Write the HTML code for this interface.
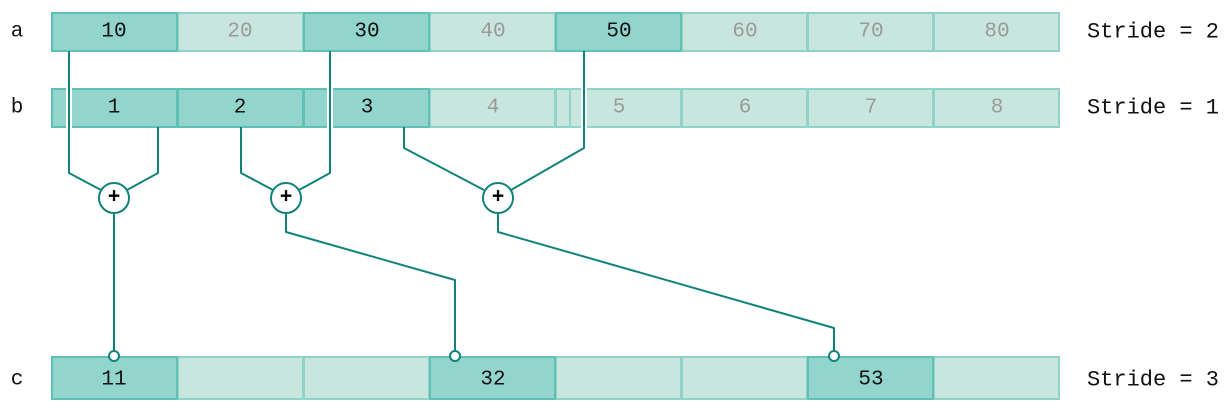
<!DOCTYPE html>
<html><head><style>body{margin:0;background:#fff}svg{display:block}text{font-family:"Liberation Mono","DejaVu Sans Mono",monospace;font-size:21px;text-anchor:middle;dominant-baseline:central}</style></head>
<body>
<svg width="1232" height="413" viewBox="0 0 1232 413">
<g stroke-width="2">
<g stroke="#8fd3c9" fill="#c9e6de">
<rect x="178" y="13" width="125" height="38"/>
<rect x="430" y="13" width="125" height="38"/>
<rect x="682" y="13" width="125" height="38"/>
<rect x="808" y="13" width="125" height="38"/>
<rect x="934" y="13" width="125" height="38"/>
<rect x="430" y="89" width="125" height="38"/>
<rect x="556" y="89" width="125" height="38"/>
<rect x="682" y="89" width="125" height="38"/>
<rect x="808" y="89" width="125" height="38"/>
<rect x="934" y="89" width="125" height="38"/>
<rect x="178" y="357" width="125" height="42"/>
<rect x="304" y="357" width="125" height="42"/>
<rect x="556" y="357" width="125" height="42"/>
<rect x="682" y="357" width="125" height="42"/>
<rect x="934" y="357" width="125" height="42"/>
</g>
<g stroke="#5fc0b3" fill="#91d5cc">
<rect x="52" y="13" width="125" height="38"/>
<rect x="304" y="13" width="125" height="38"/>
<rect x="556" y="13" width="125" height="38"/>
<rect x="52" y="89" width="125" height="38"/>
<rect x="178" y="89" width="125" height="38"/>
<rect x="304" y="89" width="125" height="38"/>
<rect x="52" y="357" width="125" height="42"/>
<rect x="430" y="357" width="125" height="42"/>
<rect x="808" y="357" width="125" height="42"/>
</g>
<line x1="570" y1="89" x2="570" y2="127" stroke="#8fd3c9"/>
</g>
<g fill="#fff">
<rect x="66" y="87" width="6" height="42"/>
<rect x="327" y="87" width="6" height="42"/>
<rect x="581" y="87" width="6" height="42"/>
</g>
<g fill="none" stroke="#11837a" stroke-width="2" stroke-linejoin="round">
<path d="M69 51 V173 L101 190 M158 127 V173 L127 190"/>
<path d="M241 127 V173 L273 190 M330 51 V173 L299 190"/>
<path d="M404 127 V148 L484 190 M584 51 V148 L511 190"/>
<path d="M114 213 V351"/>
<path d="M286 213 V232 L455 280 V351"/>
<path d="M498 213 V232 L834 328 V351"/>
</g>
<g fill="#fff" stroke="#11837a" stroke-width="2">
<circle cx="114" cy="198" r="15"/><circle cx="286" cy="198" r="15"/><circle cx="498" cy="198" r="15"/>
<circle cx="114" cy="356" r="5"/><circle cx="455" cy="356" r="5"/><circle cx="834" cy="356" r="5"/>
</g>
<g fill="#000" font-weight="bold">
<text x="114" y="198">+</text><text x="286" y="198">+</text><text x="498" y="198">+</text>
</g>
<g fill="#111">
<text x="114" y="32">10</text><text x="367" y="32">30</text><text x="619" y="32">50</text>
<text x="114" y="108">1</text><text x="240" y="108">2</text><text x="367" y="108">3</text>
<text x="114" y="380">11</text><text x="493" y="380">32</text><text x="871" y="380">53</text>
<text x="17" y="32">a</text><text x="17" y="108">b</text><text x="17" y="380">c</text>
<text x="1153" y="32" style="font-size:22px">Stride = 2</text><text x="1153" y="108" style="font-size:22px">Stride = 1</text><text x="1153" y="380" style="font-size:22px">Stride = 3</text>
</g>
<g fill="#9a9a9a">
<text x="240" y="32">20</text><text x="493" y="32">40</text><text x="745" y="32">60</text><text x="871" y="32">70</text><text x="997" y="32">80</text>
<text x="493" y="108">4</text><text x="619" y="108">5</text><text x="745" y="108">6</text><text x="871" y="108">7</text><text x="997" y="108">8</text>
</g>
</svg>
</body></html>
